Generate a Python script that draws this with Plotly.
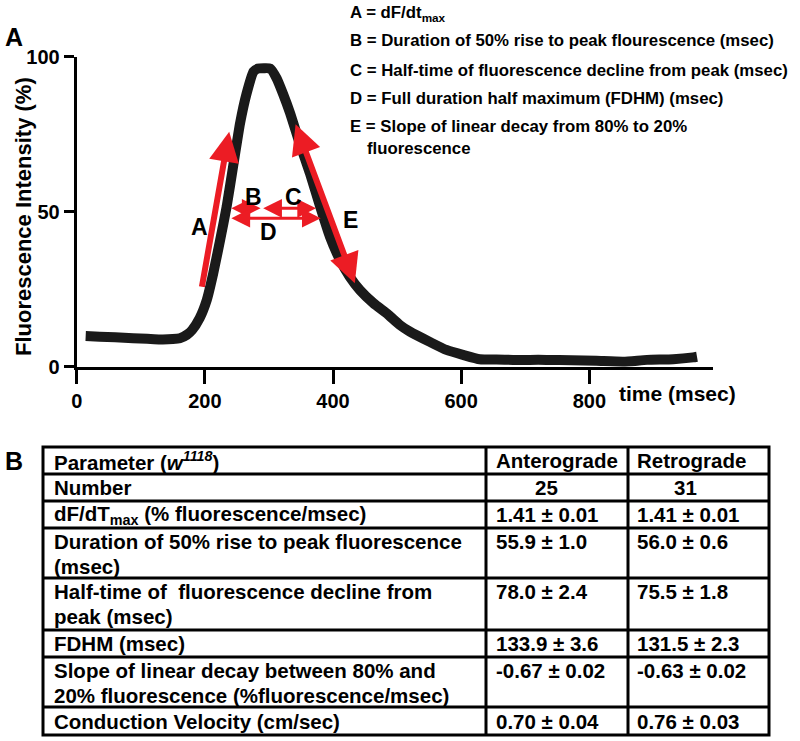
import plotly.graph_objects as go

# ---------------- data ----------------
time_ms = [14, 36, 60, 88, 110, 130, 150, 161, 172, 180, 192, 203, 213, 224, 234, 244, 255, 265,
           276, 283, 292, 302, 312, 322, 333, 348, 364, 380, 395, 411, 426, 442, 463, 486, 504,
           520, 551, 577, 603, 629, 655, 681, 707, 733, 772, 811, 853, 890, 931, 962, 968]
fluor_pct = [9.9, 9.7, 9.5, 9.2, 9.0, 8.8, 8.9, 9.2, 10.3, 11.8, 15.7, 21.5, 30.0, 41.0, 51.6, 64.5, 78.6, 88.0,
             95.2, 96.2, 96.3, 96.2, 93.0, 88.0, 81.8, 72.0, 62.4, 51.6, 42.0, 34.4, 29.0, 24.7, 20.5, 16.8, 13.5,
             11.3, 8.0, 5.4, 3.8, 2.4, 2.3, 2.2, 2.2, 2.2, 2.1, 1.9, 1.6, 2.2, 2.4, 3.0, 3.2]

x_ticks = [0, 200, 400, 600, 800]
y_ticks = [0, 50, 100]

# arrows: (label, t_tail, v_tail, t_head, v_head, double)
arrow_names = ["A", "E", "B", "C", "D"]
arrow_t0 = [195, 340.7, 239, 288.7, 239]
arrow_v0 = [25.3, 78.7, 51.1, 51.1, 47.9]
arrow_t1 = [238, 434, 287, 373.5, 380.8]
arrow_v1 = [75.8, 26.9, 51.1, 51.1, 47.9]
arrow_double = [False, True, True, True, True]

label_names = ["A", "B", "C", "D", "E"]
label_t = [191, 275.6, 338, 299, 426.5]
label_v = [45.2, 54.8, 54.8, 43.5, 47.3]

legend_lines = [
    "A = dF/dt<sub>max</sub>",
    "B = Duration of 50% rise to peak flourescence (msec)",
    "C = Half-time of fluorescence decline from peak (msec)",
    "D = Full duration half maximum (FDHM) (msec)",
    "E = Slope of linear decay from 80% to 20%",
    "fluorescence",
]

table_params = [
    "Parameter (<i>w</i><sup><i>1118</i></sup>)",
    "Number",
    "dF/dT<sub>max</sub> (% fluorescence/msec)",
    "Duration of 50% rise to peak fluorescence\n(msec)",
    "Half-time of  fluorescence decline from\npeak (msec)",
    "FDHM (msec)",
    "Slope of linear decay between 80% and\n20% fluorescence (%fluorescence/msec)",
    "Conduction Velocity (cm/sec)",
]
table_antero = ["Anterograde", "25", "1.41 ± 0.01", "55.9 ± 1.0", "78.0 ± 2.4",
                "133.9 ± 3.6", "-0.67 ± 0.02", "0.70 ± 0.04"]
table_retro = ["Retrograde", "31", "1.41 ± 0.01", "56.0 ± 0.6", "75.5 ± 1.8",
               "131.5 ± 2.3", "-0.63 ± 0.02", "0.76 ± 0.03"]

# ---------------- layout geometry (pixels) ----------------
W, H = 800, 741
def px(x):
    return x / W
def py(y):
    return 1 - y / H

RED = "#ec1c24"
FONT = "Liberation Sans, Arial, sans-serif"

fig = go.Figure()
fig.add_trace(go.Scatter(
    x=time_ms, y=fluor_pct, mode="lines",
    line=dict(color="#1a1a1a", width=10, shape="spline", smoothing=0.5),
    hoverinfo="skip", showlegend=False, cliponaxis=False,
))

fig.update_layout(
    width=W, height=H,
    margin=dict(l=0, r=0, t=0, b=0, pad=0, autoexpand=False),
    paper_bgcolor="white", plot_bgcolor="white",
    showlegend=False,
    xaxis=dict(
        domain=[px(76.7), px(712.7)], range=[0, 992.5],
        tickvals=x_ticks, ticktext=[str(v) for v in x_ticks],
        ticks="outside", ticklen=14, tickwidth=3, tickcolor="black",
        showline=True, linewidth=3, linecolor="black",
        showgrid=False, zeroline=False, fixedrange=True, automargin=False,
        tickfont=dict(family=FONT, size=20, color="black", weight="bold"),
        anchor="y",
    ),
    yaxis=dict(
        domain=[py(366.7), py(56.7)], range=[0, 100],
        tickvals=y_ticks, ticktext=[str(v) for v in y_ticks],
        ticks="outside", ticklen=10, tickwidth=3, tickcolor="black",
        showline=True, linewidth=3, linecolor="black",
        showgrid=False, zeroline=False, fixedrange=True, automargin=False,
        tickfont=dict(family=FONT, size=20, color="black", weight="bold"),
        anchor="x",
    ),
)

ann = []
# arrows
for i in range(len(arrow_names)):
    big = arrow_names[i] in ("A", "E")
    ann.append(dict(
        x=arrow_t1[i], y=arrow_v1[i], ax=arrow_t0[i], ay=arrow_v0[i],
        xref="x", yref="y", axref="x", ayref="y", text="",
        showarrow=True, arrowhead=2, startarrowhead=2,
        arrowsize=1.0 if big else 1.25, startarrowsize=1.0 if big else 1.25,
        arrowwidth=6 if big else 3, arrowcolor=RED,
        arrowside="end+start" if arrow_double[i] else "end",
        standoff=0, startstandoff=0,
    ))
# letter labels near curve
for i in range(len(label_names)):
    ann.append(dict(x=label_t[i], y=label_v[i], xref="x", yref="y", text=label_names[i],
                    showarrow=False, xanchor="center", yanchor="middle",
                    font=dict(family=FONT, size=23, color="black", weight="bold")))

# y axis title
ann.append(dict(x=px(23), y=py(217), xref="paper", yref="paper",
                text="Fluorescence Intensity (%)", textangle=-90, showarrow=False,
                xanchor="center", yanchor="middle",
                font=dict(family=FONT, size=22, color="black", weight="bold")))
# x axis title
ann.append(dict(x=px(617), y=py(393), xref="paper", yref="paper", text="time (msec)",
                showarrow=False, xanchor="left", yanchor="middle",
                font=dict(family=FONT, size=21, color="black", weight="bold")))
# panel letters
ann.append(dict(x=px(14), y=py(37), xref="paper", yref="paper", text="A", showarrow=False,
                xanchor="center", yanchor="middle",
                font=dict(family=FONT, size=25, color="black", weight="bold")))
ann.append(dict(x=px(14), y=py(461), xref="paper", yref="paper", text="B", showarrow=False,
                xanchor="center", yanchor="middle",
                font=dict(family=FONT, size=25, color="black", weight="bold")))

# legend text
legend_y = [13, 41, 70, 98, 126, 148]
legend_x = [348, 348, 348, 348, 348, 365]
for txt, xx, yy in zip(legend_lines, legend_x, legend_y):
    ann.append(dict(x=px(xx), y=py(yy), xref="paper", yref="paper", text=txt,
                    showarrow=False, xanchor="left", yanchor="middle",
                    font=dict(family=FONT, size=16.8, color="black", weight="bold")))

# ---------------- table ----------------
row_edges = [447, 474, 501, 528, 578, 630, 657, 707, 735]
col_edges = [43, 486, 628, 769]
shapes = []
shapes.append(dict(type="rect", xref="paper", yref="paper",
                   x0=px(col_edges[0]), x1=px(col_edges[-1]), y0=py(row_edges[0]), y1=py(row_edges[-1]),
                   line=dict(color="black", width=3)))
for ce in col_edges[1:-1]:
    shapes.append(dict(type="line", xref="paper", yref="paper",
                       x0=px(ce), x1=px(ce), y0=py(row_edges[0]), y1=py(row_edges[-1]),
                       line=dict(color="black", width=3)))
for re_ in row_edges[1:-1]:
    shapes.append(dict(type="line", xref="paper", yref="paper",
                       x0=px(col_edges[0]), x1=px(col_edges[-1]), y0=py(re_), y1=py(re_),
                       line=dict(color="black", width=3)))

TFONT = dict(family=FONT, size=20.5, color="black", weight="bold")
line_gap = 25
for r in range(len(table_params)):
    top = row_edges[r]
    nlines = table_params[r].count("\n") + 1
    first_center = (top + row_edges[r + 1]) / 2 if nlines == 1 else top + 13.5
    for k, part in enumerate(table_params[r].split("\n")):
        ann.append(dict(x=px(52), y=py(first_center + k * line_gap), xref="paper", yref="paper",
                        text=part.replace("  ", "&nbsp; "), showarrow=False,
                        xanchor="left", yanchor="middle", font=TFONT))
    if r == 1:
        xa, xr, anc = (col_edges[1] + col_edges[2]) / 2 - 11, (col_edges[2] + col_edges[3]) / 2 - 13, "center"
    else:
        xa, xr, anc = col_edges[1] + 8, col_edges[2] + 7, "left"
    ann.append(dict(x=px(xa), y=py(first_center), xref="paper", yref="paper", text=table_antero[r],
                    showarrow=False, xanchor=anc, yanchor="middle", font=TFONT))
    ann.append(dict(x=px(xr), y=py(first_center), xref="paper", yref="paper", text=table_retro[r],
                    showarrow=False, xanchor=anc, yanchor="middle", font=TFONT))

fig.update_layout(annotations=ann, shapes=shapes)
# remove the browser's default 8px body margin so the 800x741 figure fills the window
fig.write_html("out.html",
               config={"displayModeBar": False},
               post_script="document.body.style.margin='0';document.body.style.overflow='hidden';")
